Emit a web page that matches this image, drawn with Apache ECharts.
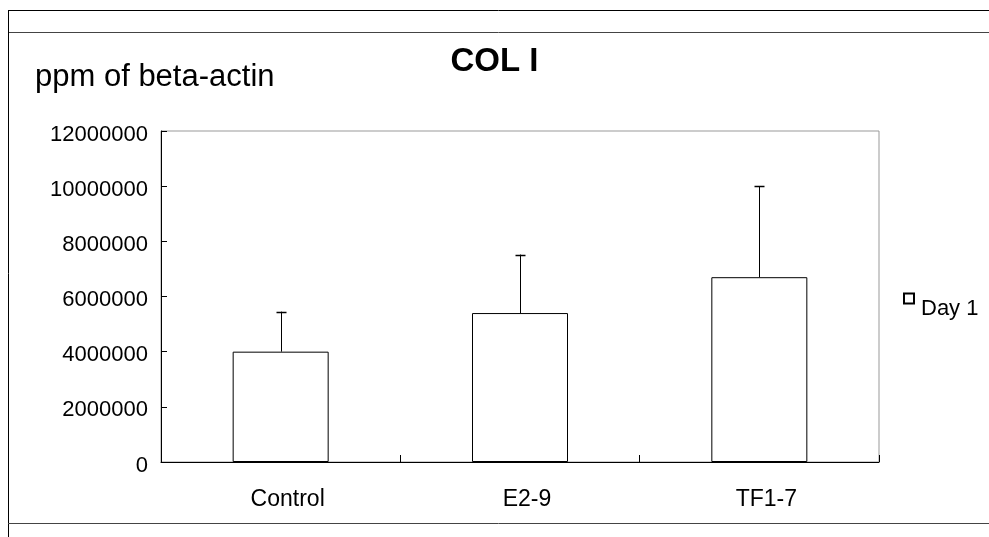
<!DOCTYPE html>
<html>
<head>
<meta charset="utf-8">
<script src="https://cdn.jsdelivr.net/npm/echarts@6/dist/echarts.min.js"></script>
<style>html,body{margin:0;padding:0;background:#fff}#c{width:989px;height:537px}</style>
</head>
<body>
<div id="c"></div>
<script>
const categories = ['Control', 'E2-9', 'TF1-7'];
const means = [4000000, 5400000, 6700000];
const upperErr = [5450000, 7520000, 10000000];
const yTicks = { min: 0, max: 12000000, interval: 2000000 };

const chart = echarts.init(document.getElementById('c'), null, { renderer: 'canvas' });
const F = 'Liberation Sans, Arial, sans-serif';
chart.setOption({
  animation: false,
  backgroundColor: '#fff',
  textStyle: { fontFamily: F },
  title: [
    { text: 'COL I', left: 'center', top: 45, padding: 0, textStyle: { fontFamily: F, fontSize: 33, fontWeight: 'bold', color: '#000' } },
    { text: 'ppm of beta-actin', left: 35, top: 62, padding: 0, textStyle: { fontFamily: F, fontSize: 31, fontWeight: 'normal', color: '#000' } }
  ],
  legend: {
    data: ['Day 1'], left: 903, top: 276, padding: 0, orient: 'vertical',
    icon: 'rect', itemWidth: 10, itemHeight: 10, itemGap: 2,
    formatter: name => '{g| }\n{a|' + name + '}',
    textStyle: {
      fontFamily: F, fontSize: 22, color: '#000',
      rich: {
        g: { height: 20, fontSize: 10, lineHeight: 20 },
        a: { fontFamily: F, fontSize: 22, color: '#000', height: 25, lineHeight: 25, padding: [0, 0, 0, 2] }
      }
    }
  },
  grid: { left: 161, right: 110, top: 131, bottom: 75, show: true, borderColor: '#999', borderWidth: 1, backgroundColor: 'transparent' },
  xAxis: {
    type: 'category', data: categories,
    axisLine: { lineStyle: { color: '#000', width: 1 } },
    axisTick: { show: true, inside: true, length: 7, alignWithLabel: false, lineStyle: { color: '#000' } },
    axisLabel: { fontFamily: F, fontSize: 23, color: '#000', margin: 26, padding: [0, 0, 0, 14] },
    splitLine: { show: false }
  },
  yAxis: {
    type: 'value', min: yTicks.min, max: yTicks.max, interval: yTicks.interval,
    axisLine: { show: true, lineStyle: { color: '#000', width: 1 } },
    axisTick: { show: true, inside: true, length: 6, lineStyle: { color: '#000' } },
    axisLabel: {
      fontFamily: F, fontSize: 22, color: '#000', margin: 13,
      formatter: v => '{g| }\n{a|' + v + '}',
      rich: {
        g: { height: 7, fontSize: 6, lineHeight: 7 },
        a: { fontFamily: F, fontSize: 22, color: '#000', height: 25, lineHeight: 25 }
      }
    },
    splitLine: { show: false }
  },
  series: [
    {
      name: 'Day 1', type: 'bar', data: means, barWidth: 96,
      itemStyle: { color: '#fff', borderColor: '#000', borderWidth: 1 }
    },
    {
      name: 'err', type: 'custom', z: 5,
      data: means.map((m, i) => [i, m, upperErr[i]]),
      renderItem: function (params, api) {
        const i = api.value(0);
        const p0 = api.coord([i, api.value(1)]);
        const p1 = api.coord([i, api.value(2)]);
        const x = Math.round(p0[0]) + 0.5;
        return {
          type: 'group',
          children: [
            { type: 'line', shape: { x1: x, y1: p0[1], x2: x, y2: p1[1] }, style: { stroke: '#000', lineWidth: 1 } },
            { type: 'line', shape: { x1: x - 5, y1: Math.round(p1[1]) + 0.5, x2: x + 5, y2: Math.round(p1[1]) + 0.5 }, style: { stroke: '#000', lineWidth: 1.5 } }
          ]
        };
      }
    }
  ],
  graphic: [
    { type: 'line', shape: { x1: 8, y1: 10.5, x2: 989, y2: 10.5 }, style: { stroke: '#000', lineWidth: 1 } },
    { type: 'line', shape: { x1: 8, y1: 32.5, x2: 989, y2: 32.5 }, style: { stroke: '#444', lineWidth: 1 } },
    { type: 'line', shape: { x1: 8.5, y1: 10, x2: 8.5, y2: 537 }, style: { stroke: '#000', lineWidth: 1 } },
    { type: 'line', shape: { x1: 8, y1: 523.5, x2: 989, y2: 523.5 }, style: { stroke: '#444', lineWidth: 1 } }
  ]
});
</script>
</body>
</html>
